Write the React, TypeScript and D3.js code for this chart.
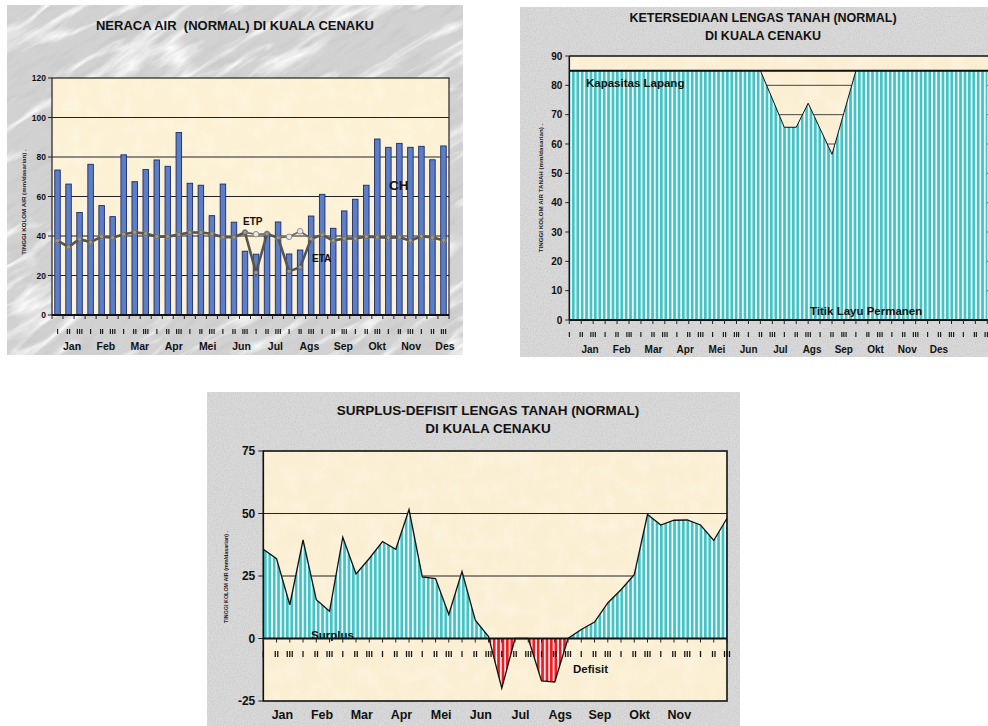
import { useEffect, useRef } from 'react';
import * as d3 from 'd3';

const months = ['Jan', 'Feb', 'Mar', 'Apr', 'Mei', 'Jun', 'Jul', 'Ags', 'Sep', 'Okt', 'Nov', 'Des'];
const dasarian = ['I', 'II', 'III'];

// neraca air, per dasarian (mm)
const curahHujan = [73.4, 66.3, 51.9, 76.3, 55.4, 49.8, 81.1, 67.5, 73.7, 78.5, 75.3, 92.4, 66.7, 65.7, 50.3, 66.3, 47.0, 32.3, 30.8, 41.4, 47.1, 30.9, 32.9, 50.1, 61.1, 43.9, 52.7, 58.6, 65.7, 89.1, 84.9, 86.9, 84.9, 85.4, 78.6, 85.6];
const etp = [37.7, 34.5, 38.4, 36.9, 39.7, 39.1, 40.9, 41.9, 41.2, 39.7, 39.7, 40.7, 41.8, 41.8, 41.1, 39.4, 39.4, 41.8, 40.9, 41.1, 39.1, 39.6, 42.4, 38.6, 40.6, 37.7, 38.7, 38.7, 39.7, 39.4, 39.2, 39.4, 37.7, 39.9, 39.2, 37.9];
const eta = [37.7, 34.5, 38.4, 36.9, 39.7, 39.1, 40.9, 41.9, 41.2, 39.7, 39.7, 40.7, 41.8, 41.8, 41.1, 39.4, 39.4, 41.8, 21.5, 41.1, 39.1, 22.1, 24.2, 38.6, 40.6, 37.7, 38.7, 38.7, 39.7, 39.4, 39.2, 39.4, 37.7, 39.9, 39.2, 37.9];

// ketersediaan lengas tanah (mm)
const kapasitasLapang = 85;
const lengasTanah = [85, 85, 85, 85, 85, 85, 85, 85, 85, 85, 85, 85, 85, 85, 85, 85, 85, 75.4, 65.7, 65.7, 73.9, 65.2, 56.5, 70.7, 85, 85, 85, 85, 85, 85, 85, 85, 85, 85, 85, 85];

// surplus (+) / defisit (-)
const surplusDefisit = [35.7, 31.9, 13.5, 39.4, 15.5, 10.9, 40.5, 25.8, 32.0, 38.8, 35.7, 51.6, 24.6, 24.0, 9.6, 26.8, 7.3, 0.8, -19.9, 0, 0, -17.0, -17.4, 0, 3.6, 6.6, 14.2, 19.5, 25.5, 49.6, 45.4, 47.3, 47.4, 45.4, 39.2, 48.1];
const surplusTicks = [-25, 0, 25, 50, 75];

const FONT = 'Liberation Sans, Arial, Helvetica, sans-serif';
const periodLabels = months.flatMap(() => dasarian);

export default function App() {
  const svgRef = useRef<SVGSVGElement | null>(null);

  useEffect(() => {
    if (!svgRef.current) return;
    const svg = d3.select(svgRef.current);
    svg.selectAll('*').remove();

    const defs = svg.append('defs');

    // marble texture (chart 1)
    const marble = defs.append('filter').attr('id', 'marble').attr('x', 0).attr('y', 0).attr('width', 1).attr('height', 1);
    marble
      .append('feTurbulence')
      .attr('type', 'turbulence')
      .attr('baseFrequency', '0.006 0.03')
      .attr('numOctaves', 5)
      .attr('seed', 7)
      .attr('result', 't');
    marble
      .append('feColorMatrix')
      .attr('in', 't')
      .attr('type', 'matrix')
      .attr('values', '0 0 0 0 1  0 0 0 0 1  0 0 0 0 1  -4 0 0 0 1.05');

    const marbleDark = defs.append('filter').attr('id', 'marbleDark').attr('x', 0).attr('y', 0).attr('width', 1).attr('height', 1);
    marbleDark
      .append('feTurbulence')
      .attr('type', 'fractalNoise')
      .attr('baseFrequency', '0.03 0.15')
      .attr('numOctaves', 4)
      .attr('seed', 2)
      .attr('result', 't');
    marbleDark
      .append('feColorMatrix')
      .attr('in', 't')
      .attr('type', 'matrix')
      .attr('values', '0 0 0 0 0.5  0 0 0 0 0.5  0 0 0 0 0.5  0 0 0 -2.6 1.35');

    // granite texture (chart 2, 3)
    const granite = defs.append('filter').attr('id', 'granite').attr('x', 0).attr('y', 0).attr('width', 1).attr('height', 1);
    granite
      .append('feTurbulence')
      .attr('type', 'fractalNoise')
      .attr('baseFrequency', 0.85)
      .attr('numOctaves', 2)
      .attr('seed', 4)
      .attr('result', 't');
    granite
      .append('feColorMatrix')
      .attr('in', 't')
      .attr('type', 'matrix')
      .attr('values', '0 0 0 0 0.55  0 0 0 0 0.55  0 0 0 0 0.55  0 0 0 -1.6 1.0');

    const paper = defs.append('filter').attr('id', 'paper').attr('x', 0).attr('y', 0).attr('width', 1).attr('height', 1);
    paper
      .append('feTurbulence')
      .attr('type', 'fractalNoise')
      .attr('baseFrequency', 0.06)
      .attr('numOctaves', 3)
      .attr('seed', 9)
      .attr('result', 't');
    paper
      .append('feColorMatrix')
      .attr('in', 't')
      .attr('type', 'matrix')
      .attr('values', '0 0 0 0 1  0 0 0 0 1  0 0 0 0 1  0 0 0 -1.2 0.7');

    const stripes = (id: string, color: string) => {
      const p = defs
        .append('pattern')
        .attr('id', id)
        .attr('patternUnits', 'userSpaceOnUse')
        .attr('width', 4.4)
        .attr('height', 10);
      p.append('rect').attr('width', 4.4).attr('height', 10).attr('fill', '#ffffff');
      p.append('rect').attr('width', 2.8).attr('height', 10).attr('fill', color);
    };
    stripes('cyanStripes', '#45c3c4');
    stripes('redStripes', '#ee1d25');

    const txt = (
      g: d3.Selection<any, unknown, null, undefined>,
      x: number,
      y: number,
      s: string,
      size: number,
      anchor = 'middle'
    ) =>
      g
        .append('text')
        .attr('x', x)
        .attr('y', y)
        .attr('text-anchor', anchor)
        .attr('font-family', FONT)
        .attr('font-weight', 700)
        .attr('font-size', size)
        .attr('fill', '#111')
        .style('white-space', 'pre')
        .text(s);

    // tiny I / II / III labels go in a translucent layer (grey antialiasing, no colour fringes)
    const smallLayer = (g: any) => g.append('g').attr('opacity', 0.98);

    const yTitle = (g: any, x: number, y: number, s: string, size: number) =>
      g
        .append('text')
        .attr('transform', `translate(${x},${y}) rotate(-90)`)
        .attr('text-anchor', 'middle')
        .attr('font-family', FONT)
        .attr('font-weight', 700)
        .attr('font-size', size)
        .attr('fill', '#222')
        .text(s);

    // ---------------- Chart 1: Neraca air ----------------
    {
      const g = svg.append('g');
      defs.append('clipPath').attr('id', 'box1').append('rect').attr('x', 7).attr('y', 5).attr('width', 456).attr('height', 350);
      const bg = g.append('g').attr('clip-path', 'url(#box1)');
      bg.append('rect').attr('x', 7).attr('y', 5).attr('width', 456).attr('height', 350).attr('fill', '#d2d2d2');
      const rot = bg.append('g').attr('transform', 'rotate(-32,235,180)');
      rot.append('rect').attr('x', -150).attr('y', -200).attr('width', 770).attr('height', 760).attr('filter', 'url(#marbleDark)').attr('opacity', 0.4);
      rot.append('rect').attr('x', -150).attr('y', -200).attr('width', 770).attr('height', 760).attr('filter', 'url(#marble)');

      const L = 52, R = 449, T = 78, B = 315;
      const x = d3.scaleBand<number>().domain(d3.range(36)).range([L, R]).paddingInner(0.5).paddingOuter(0.25);
      const y = d3.scaleLinear().domain([0, 120]).range([B, T]);
      const cx = (i: number) => (x(i) as number) + x.bandwidth() / 2;
      const step = (R - L) / 36;

      g.append('rect').attr('x', L).attr('y', T).attr('width', R - L).attr('height', B - T).attr('fill', '#fcf1d4');
      g.append('rect').attr('x', L).attr('y', T).attr('width', R - L).attr('height', B - T).attr('filter', 'url(#paper)').attr('opacity', 0.5);

      y.ticks(6).forEach((t) => {
        if (t > 0 && t < 120)
          g.append('line').attr('x1', L).attr('x2', R).attr('y1', y(t)).attr('y2', y(t)).attr('stroke', '#222').attr('stroke-width', 1);
        g.append('line').attr('x1', L - 4).attr('x2', L).attr('y1', y(t)).attr('y2', y(t)).attr('stroke', '#222');
        txt(g, L - 6, y(t) + 3, String(t), 8.5, 'end');
      });

      g.selectAll('rect.ch')
        .data(curahHujan)
        .enter()
        .append('rect')
        .attr('class', 'ch')
        .attr('x', (_, i) => x(i) as number)
        .attr('y', (d) => y(d))
        .attr('width', x.bandwidth())
        .attr('height', (d) => B - y(d))
        .attr('fill', '#5b7ec6')
        .attr('stroke', '#1d2b6a')
        .attr('stroke-width', 0.9);

      // frame
      g.append('rect').attr('x', L).attr('y', T).attr('width', R - L).attr('height', B - T).attr('fill', 'none').attr('stroke', '#222').attr('stroke-width', 1.2);
      g.append('line').attr('x1', L).attr('x2', R).attr('y1', B).attr('y2', B).attr('stroke', '#111').attr('stroke-width', 2);

      d3.range(37).forEach((i) => {
        g.append('line').attr('x1', L + i * step).attr('x2', L + i * step).attr('y1', B).attr('y2', B + 4).attr('stroke', '#222');
      });
      const sl = smallLayer(g);
      periodLabels.forEach((s, i) => txt(sl, cx(i), 334, s, 8));
      const mx = d3.scalePoint<string>().domain(months).range([72, 445]);
      months.forEach((m) => txt(g, mx(m) as number, 350, m, 10.5));

      const line = d3
        .line<number>()
        .x((_, i) => cx(i))
        .y((d) => y(d));

      g.append('path').attr('d', line(etp)).attr('fill', 'none').attr('stroke', '#666').attr('stroke-width', 1.6);
      g.selectAll('circle.etp')
        .data(etp)
        .enter()
        .append('circle')
        .attr('cx', (_, i) => cx(i))
        .attr('cy', (d) => y(d))
        .attr('r', 2.8)
        .attr('fill', '#e8e8e8')
        .attr('stroke', '#777')
        .attr('stroke-width', 0.8);

      g.append('path').attr('d', line(eta)).attr('fill', 'none').attr('stroke', '#555').attr('stroke-width', 2.6);
      g.selectAll('circle.eta')
        .data(eta)
        .enter()
        .append('circle')
        .attr('cx', (_, i) => cx(i))
        .attr('cy', (d) => y(d))
        .attr('r', 2.2)
        .attr('fill', '#9a9a9a')
        .attr('stroke', '#555')
        .attr('stroke-width', 0.8);

      txt(g, 243, 225, 'ETP', 10, 'start');
      txt(g, 312, 262, 'ETA', 10, 'start');
      txt(g, 389, 190, 'CH', 13.5, 'start');

      txt(g, 235, 30, 'NERACA AIR  (NORMAL) DI KUALA CENAKU', 13);
      yTitle(g, 26, 202, 'TINGGI KOLOM AIR (mm/dasarian) .', 6.2);
    }

    // ---------------- Chart 2: Ketersediaan lengas tanah ----------------
    {
      const g = svg.append('g');
      g.append('rect').attr('x', 520).attr('y', 7).attr('width', 468).attr('height', 350).attr('fill', '#dadada');
      g.append('rect').attr('x', 520).attr('y', 7).attr('width', 468).attr('height', 350).attr('filter', 'url(#granite)');

      const L = 569.3, R = 987.3, T = 56, B = 320;
      const x = d3.scalePoint<number>().domain(d3.range(36)).range([L, R]);
      const y = d3.scaleLinear().domain([0, 90]).range([B, T]);

      g.append('rect').attr('x', L).attr('y', T).attr('width', 420).attr('height', B - T).attr('fill', '#fbefd3');
      g.append('rect').attr('x', L).attr('y', T).attr('width', 420).attr('height', B - T).attr('filter', 'url(#paper)').attr('opacity', 0.5);

      y.ticks(9).forEach((t) => {
        if (t > 0 && t < 90)
          g.append('line').attr('x1', L).attr('x2', 989).attr('y1', y(t)).attr('y2', y(t)).attr('stroke', '#333').attr('stroke-width', 0.9);
        g.append('line').attr('x1', L - 4).attr('x2', L).attr('y1', y(t)).attr('y2', y(t)).attr('stroke', '#222');
        txt(g, L - 7, y(t) + 3.5, String(t), 10, 'end');
      });

      const area = d3
        .area<number>()
        .x((_, i) => x(i) as number)
        .y0(B)
        .y1((d) => y(d));
      g.append('path').attr('d', area(lengasTanah)).attr('fill', 'url(#cyanStripes)');
      g.append('path')
        .attr('d', d3.line<number>().x((_, i) => x(i) as number).y((d) => y(d))(lengasTanah))
        .attr('fill', 'none')
        .attr('stroke', '#111')
        .attr('stroke-width', 1);

      g.append('line').attr('x1', L).attr('x2', 989).attr('y1', y(kapasitasLapang)).attr('y2', y(kapasitasLapang)).attr('stroke', '#111').attr('stroke-width', 2);
      g.append('line').attr('x1', L).attr('x2', 989).attr('y1', T).attr('y2', T).attr('stroke', '#111').attr('stroke-width', 1.5);
      g.append('line').attr('x1', L).attr('x2', L).attr('y1', T).attr('y2', B).attr('stroke', '#111').attr('stroke-width', 1.5);
      g.append('line').attr('x1', L).attr('x2', 989).attr('y1', B).attr('y2', B).attr('stroke', '#111').attr('stroke-width', 2);

      d3.range(36).forEach((i) => {
        const xi = x(i) as number;
        g.append('line').attr('x1', xi).attr('x2', xi).attr('y1', B).attr('y2', B + 4).attr('stroke', '#222');
      });
      const sl = smallLayer(g);
      periodLabels.forEach((s, i) => txt(sl, x(i) as number, 337, s, 8));
      const mx = d3.scalePoint<string>().domain(months).range([590, 939]);
      months.forEach((m) => txt(g, mx(m) as number, 353, m, 10));

      txt(g, 586, 87, 'Kapasitas Lapang', 11.5, 'start');
      txt(g, 810, 315, 'Titik Layu Permanen', 11.5, 'start');

      txt(g, 763, 22, 'KETERSEDIAAN LENGAS TANAH (NORMAL)', 12.5);
      txt(g, 763, 40, 'DI KUALA CENAKU', 12.5);
      yTitle(g, 543, 188, 'TINGGI KOLOM AIR TANAH (mm/dasarian) .', 6.2);
    }

    // ---------------- Chart 3: Surplus-defisit ----------------
    {
      const g = svg.append('g');
      g.append('rect').attr('x', 207).attr('y', 392).attr('width', 533).attr('height', 334).attr('fill', '#dadada');
      g.append('rect').attr('x', 207).attr('y', 392).attr('width', 533).attr('height', 334).attr('filter', 'url(#granite)');

      const L = 263.3, R = 727, T = 451, B = 701;
      const x = d3.scalePoint<number>().domain(d3.range(36)).range([L, R]);
      const y = d3.scaleLinear().domain([-25, 75]).range([B, T]);
      const y0 = y(0);

      g.append('rect').attr('x', L).attr('y', T).attr('width', R - L).attr('height', B - T).attr('fill', '#fbefd3');
      g.append('rect').attr('x', L).attr('y', T).attr('width', R - L).attr('height', B - T).attr('filter', 'url(#paper)').attr('opacity', 0.5);

      [25, 50].forEach((t) =>
        g.append('line').attr('x1', L).attr('x2', R).attr('y1', y(t)).attr('y2', y(t)).attr('stroke', '#222').attr('stroke-width', 1)
      );
      surplusTicks.forEach((t) => {
        g.append('line').attr('x1', L - 5).attr('x2', L).attr('y1', y(t)).attr('y2', y(t)).attr('stroke', '#222');
        txt(g, L - 8, y(t) + 4, String(t), 12, 'end');
      });

      defs.append('clipPath').attr('id', 'above0').append('rect').attr('x', L).attr('y', T).attr('width', R - L).attr('height', y0 - T);
      defs.append('clipPath').attr('id', 'below0').append('rect').attr('x', L).attr('y', y0).attr('width', R - L).attr('height', B - y0);

      const area = d3
        .area<number>()
        .x((_, i) => x(i) as number)
        .y0(y0)
        .y1((d) => y(d));
      g.append('path').attr('d', area(surplusDefisit)).attr('fill', 'url(#cyanStripes)').attr('clip-path', 'url(#above0)');
      g.append('path').attr('d', area(surplusDefisit)).attr('fill', 'url(#redStripes)').attr('clip-path', 'url(#below0)');

      g.append('line').attr('x1', L).attr('x2', R).attr('y1', y0).attr('y2', y0).attr('stroke', '#111').attr('stroke-width', 1.8);
      g.append('path')
        .attr('d', d3.line<number>().x((_, i) => x(i) as number).y((d) => y(d))(surplusDefisit))
        .attr('fill', 'none')
        .attr('stroke', '#111')
        .attr('stroke-width', 1.3);

      g.append('rect').attr('x', L).attr('y', T).attr('width', R - L).attr('height', B - T).attr('fill', 'none').attr('stroke', '#111').attr('stroke-width', 1.6);

      d3.range(36).forEach((i) => {
        const xi = x(i) as number;
        g.append('line').attr('x1', xi).attr('x2', xi).attr('y1', y0).attr('y2', y0 + 4).attr('stroke', '#222');
      });
      const sl = smallLayer(g);
      periodLabels.forEach((s, i) => txt(sl, x(i) as number, 657, s, 9));
      const shown = months.slice(0, 11);
      const mx = d3.scalePoint<string>().domain(shown).range([282.4, 679.3]);
      shown.forEach((m) => txt(g, mx(m) as number, 719, m, 12.5));

      txt(g, 311, 639, 'Surplus', 11.5, 'start');
      txt(g, 573, 673, 'Defisit', 11.5, 'start');

      txt(g, 488, 415, 'SURPLUS-DEFISIT LENGAS TANAH (NORMAL)', 13.5);
      txt(g, 488, 433, 'DI KUALA CENAKU', 13.5);
      yTitle(g, 228, 577, 'TINGGI KOLOM AIR (mm/dasarian) .', 5.4);
    }
  }, []);

  return (
    <svg
      ref={svgRef}
      width={988}
      height={726}
      style={{ position: 'absolute', left: 0, top: 0, background: '#fff', display: 'block' }}
    />
  );
}
